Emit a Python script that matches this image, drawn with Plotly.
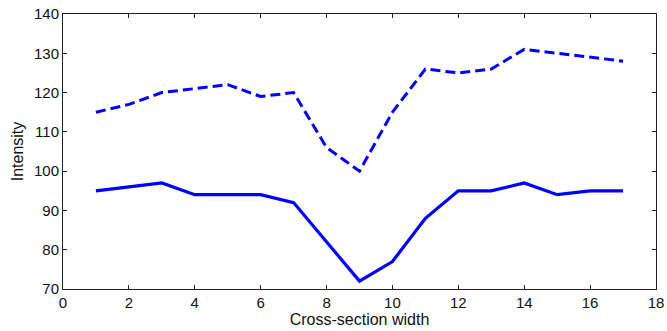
import plotly.graph_objects as go

# Cross-section profile: sample positions and measured intensities
positions = list(range(1, 18))
intensity_upper = [115, 117, 120, 121, 122, 119, 120, 106, 100, 115, 126, 125, 126, 131, 130, 129, 128]
intensity_lower = [95, 96, 97, 94, 94, 94, 92, 82, 72, 77, 88, 95, 95, 97, 94, 95, 95]

x_ticks = list(range(0, 19, 2))
y_ticks = list(range(70, 141, 10))

TICK_FONT = dict(family="Liberation Sans, Arial", size=15, color="#111111")
TITLE_FONT = dict(family="Liberation Sans, Arial", size=16, color="#111111")

fig = go.Figure()
fig.add_trace(go.Scatter(x=positions, y=intensity_upper, mode="lines",
                         line=dict(color="#0000ff", width=3, dash="10px,5px"),
                         showlegend=False))
fig.add_trace(go.Scatter(x=positions, y=intensity_lower, mode="lines",
                         line=dict(color="#0000ff", width=3.2),
                         showlegend=False))

axis_common = dict(
    showgrid=False, zeroline=False, showline=True, linecolor="#222222", linewidth=1,
    mirror="ticks", ticks="inside", ticklen=4, tickcolor="#222222",
    tickfont=TICK_FONT, automargin=False,
)
fig.update_xaxes(range=[0, 18], tickvals=x_ticks, **axis_common,
                 title=dict(text="Cross-section width", standoff=0, font=TITLE_FONT))
fig.update_yaxes(range=[70, 140], tickvals=y_ticks, **axis_common,
                 title=dict(text="Intensity", standoff=6, font=TITLE_FONT))

fig.update_layout(
    width=667, height=331,
    margin=dict(l=63, r=11, t=14, b=42),
    paper_bgcolor="white", plot_bgcolor="white",
)
fig.write_html("out.html")
